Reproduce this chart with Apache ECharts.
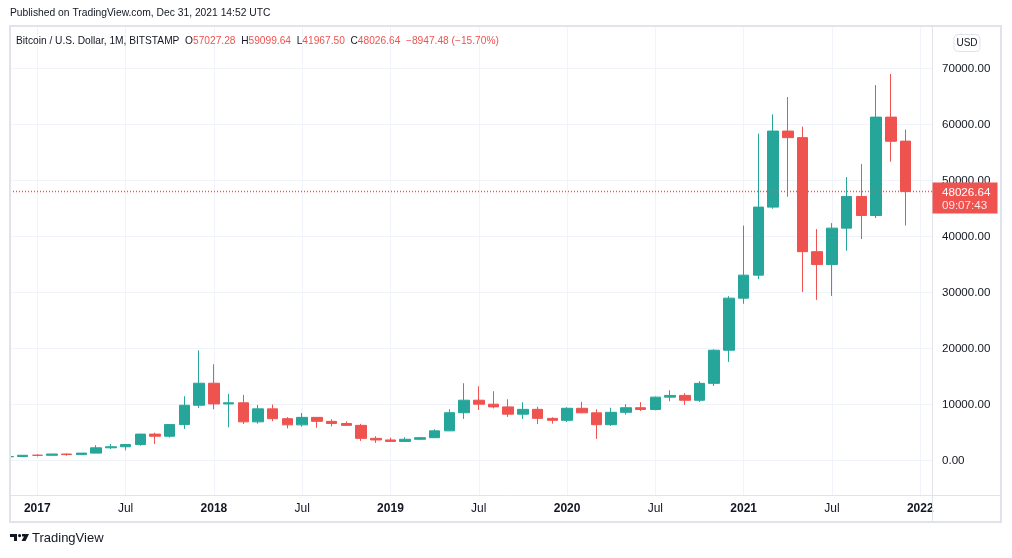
<!DOCTYPE html>
<html>
<head>
<meta charset="utf-8">
<script src="https://cdn.jsdelivr.net/npm/echarts@6/dist/echarts.min.js"></script>
<style>
  html, body { margin: 0; padding: 0; background: #fff; }
  #chart { width: 1012px; height: 558px; }
</style>
</head>
<body>
<div id="chart"></div>
<script>
// monthly BTC/USD, Bitstamp
const months = [
  '2016-11', '2016-12',
  '2017-01', '2017-02', '2017-03', '2017-04', '2017-05', '2017-06', '2017-07', '2017-08', '2017-09', '2017-10', '2017-11', '2017-12',
  '2018-01', '2018-02', '2018-03', '2018-04', '2018-05', '2018-06', '2018-07', '2018-08', '2018-09', '2018-10', '2018-11', '2018-12',
  '2019-01', '2019-02', '2019-03', '2019-04', '2019-05', '2019-06', '2019-07', '2019-08', '2019-09', '2019-10', '2019-11', '2019-12',
  '2020-01', '2020-02', '2020-03', '2020-04', '2020-05', '2020-06', '2020-07', '2020-08', '2020-09', '2020-10', '2020-11', '2020-12',
  '2021-01', '2021-02', '2021-03', '2021-04', '2021-05', '2021-06', '2021-07', '2021-08', '2021-09', '2021-10', '2021-11', '2021-12'
];
const opens = [
  698, 742,
  967, 962, 1190, 1080, 1348, 2300, 2480, 2875, 4740, 4360, 6440, 9890,
  13820, 10130, 10330, 6925, 9245, 7495, 6390, 7730, 7020, 6630, 6300, 3980,
  3700, 3440, 3820, 4100, 5320, 8560, 10790, 10080, 9600, 8300, 9160, 7550,
  7200, 9350, 8540, 6420, 8630, 9450, 9140, 11340, 11650, 10780, 13800, 19710,
  29000, 33110, 45250, 58820, 57650, 37300, 35000, 41500, 47150, 43750, 61310, 57027.28
];
const highs = [
  753, 979,
  1153, 1200, 1300, 1350, 2770, 2980, 2920, 4800, 4980, 6470, 11500, 19700,
  17200, 11920, 11740, 9950, 10020, 7780, 8500, 7750, 7400, 7000, 6570, 4360,
  4100, 4180, 4140, 5600, 9180, 13820, 13290, 12390, 10960, 10430, 9600, 7750,
  9540, 10500, 9180, 9450, 10080, 10430, 11450, 12570, 12040, 14180, 19880, 29360,
  41950, 58350, 61800, 64900, 59600, 41330, 42400, 50600, 52930, 67030, 69000, 59099.64
];
const lows = [
  677, 742,
  752, 914, 890, 1060, 1340, 2080, 1840, 2670, 2975, 4110, 5660, 9410,
  9180, 5960, 6560, 6620, 7050, 5760, 6070, 5880, 6120, 6200, 3520, 3170,
  3360, 3380, 3700, 4060, 5300, 7450, 9060, 9320, 7800, 7450, 6550, 6600,
  6900, 8460, 3880, 6200, 8230, 8880, 8990, 10600, 9950, 10480, 13340, 17630,
  28000, 32400, 44950, 47090, 30100, 28700, 29400, 37450, 39550, 43300, 53340, 41967.50
];
const closes = [
  742, 964,
  960, 1190, 1080, 1348, 2300, 2480, 2875, 4740, 4360, 6440, 9890, 13820,
  10130, 10330, 6925, 9245, 7495, 6390, 7730, 7020, 6630, 6300, 3980, 3700,
  3440, 3820, 4100, 5320, 8560, 10790, 10080, 9600, 8300, 9160, 7550, 7200,
  9350, 8540, 6420, 8630, 9450, 9140, 11340, 11650, 10780, 13800, 19710, 29000,
  33110, 45250, 58820, 57650, 37300, 35000, 41500, 47150, 43750, 61310, 57000, 48026.64
];

// x ticks: months counted from Jan 2017
const xTickValues = [0, 6, 12, 18, 24, 30, 36, 42, 48, 54, 60];
const xTickLabels = ['2017', 'Jul', '2018', 'Jul', '2019', 'Jul', '2020', 'Jul', '2021', 'Jul', '2022'];
const yTickValues = [0, 10000, 20000, 30000, 40000, 50000, 60000, 70000];

const lastPrice = 48026.64;
const countdown = '09:07:43';
const legendParts = [
  ['t', 'Bitcoin / U.S. Dollar, 1M, BITSTAMP  '],
  ['t', 'O'], ['v', '57027.28  '],
  ['t', 'H'], ['v', '59099.64  '],
  ['t', 'L'], ['v', '41967.50  '],
  ['t', 'C'], ['v', '48026.64  '],
  ['v', '\u22128947.48 (\u221215.70%)']
];

const UP = '#26a69a';
const DOWN = '#ef5350';
const TXT = '#131722';
const GRID = '#f0f3fa';
const FRAME = '#e0e3eb';
const FONT = 'Liberation Sans';

function monthIndex(m) {
  const p = m.split('-');
  return (+p[0] - 2017) * 12 + (+p[1] - 1);
}

const candles = months.map((m, i) => [monthIndex(m), opens[i], closes[i], lows[i], highs[i]]);

const chart = echarts.init(document.getElementById('chart'));

const staticGraphics = [
  // hide anything that leaks left of the pane
  { type: 'rect', z: 9, shape: { x: 0, y: 20, width: 10, height: 510 }, style: { fill: '#fff' } },
  // chart frame and pane separators
  { type: 'rect', z: 10, shape: { x: 10, y: 26, width: 991, height: 496 },
    style: { fill: 'none', stroke: FRAME, lineWidth: 2 } },
  { type: 'line', z: 10, shape: { x1: 932.5, y1: 26, x2: 932.5, y2: 522 },
    style: { stroke: FRAME, lineWidth: 1 } },
  { type: 'line', z: 10, shape: { x1: 10, y1: 495.5, x2: 1001, y2: 495.5 },
    style: { stroke: FRAME, lineWidth: 1 } },
  // header
  { type: 'text', left: 10, top: 8.5,
    style: { text: 'Published on TradingView.com, Dec 31, 2021 14:52 UTC', fill: TXT,
      font: '10.3px "Liberation Sans"' } },
  { type: 'text', left: 16, top: 36,
    style: {
      text: legendParts.map(p => '{' + p[0] + '|' + p[1] + '}').join(''),
      rich: {
        t: { fill: TXT, fontSize: 10.2, fontFamily: FONT },
        v: { fill: DOWN, fontSize: 10.2, fontFamily: FONT }
      }
    } },
  // USD badge
  { type: 'rect', shape: { x: 954, y: 34.5, width: 26, height: 17, r: 4 },
    style: { fill: '#fff', stroke: FRAME, lineWidth: 1 } },
  { type: 'text', x: 967, y: 43,
    style: { text: 'USD', fill: TXT, font: '10px "Liberation Sans"', align: 'center', verticalAlign: 'middle' } },
  // footer logo
  { type: 'group', left: 10, top: 534, children: [
    { type: 'polygon', shape: { points: [[0, 0], [7, 0], [7, 7], [4, 7], [4, 3], [0, 3]] },
      style: { fill: TXT } },
    { type: 'circle', shape: { cx: 9.6, cy: 1.6, r: 1.6 }, style: { fill: TXT } },
    { type: 'polygon', shape: { points: [[12, 0], [19, 0], [15.5, 7], [11.5, 7], [14, 2.5], [12, 2.5]] },
      style: { fill: TXT } }
  ] },
  { type: 'text', left: 32, top: 532,
    style: { text: 'TradingView', fill: TXT, font: '13px "Liberation Sans"' } }
];

const option = {
  animation: false,
  backgroundColor: '#fff',
  textStyle: { fontFamily: FONT },
  grid: { left: 10, right: 80, top: 26, bottom: 62 },
  xAxis: {
    type: 'value',
    min: -1.855,
    max: 60.8,
    axisLine: { show: false },
    axisTick: { show: false, customValues: xTickValues },
    splitLine: { show: true, lineStyle: { color: GRID, width: 1 } },
    axisLabel: {
      customValues: xTickValues,
      margin: 7,
      color: TXT,
      fontSize: 12,
      fontFamily: FONT,
      formatter: function (v) {
        const lab = xTickLabels[xTickValues.indexOf(v)];
        return lab === 'Jul' ? lab : '{y|' + lab + '}';
      },
      rich: { y: { fontWeight: 'bold', fontSize: 12, color: TXT, fontFamily: FONT } }
    }
  },
  yAxis: {
    type: 'value',
    position: 'right',
    min: -6304,
    max: 77571,
    axisLine: { show: false },
    axisTick: { show: false, customValues: yTickValues },
    splitLine: { show: true, lineStyle: { color: GRID, width: 1 } },
    axisLabel: {
      customValues: yTickValues,
      margin: 10,
      color: TXT,
      fontSize: 11.6,
      fontFamily: FONT,
      formatter: v => v.toFixed(2)
    }
  },
  series: [{
    type: 'candlestick',
    data: candles,
    encode: { x: 0, y: [1, 2, 3, 4] },
    clip: true,
    barWidth: 11,
    itemStyle: {
      color: UP,
      color0: DOWN,
      borderColor: UP,
      borderColor0: DOWN,
      borderWidth: 1
    },
    markLine: {
      silent: true,
      symbol: ['none', 'none'],
      itemStyle: { color: DOWN },
      lineStyle: { color: DOWN, type: [1, 2], width: 1.3, opacity: 1 },
      label: { show: false },
      data: [{ yAxis: lastPrice, lineStyle: { color: DOWN } }]
    }
  }],
  graphic: staticGraphics
};

chart.setOption(option);

// last-price badge on the price scale, placed from the axis itself
const py = chart.convertToPixel({ yAxisIndex: 0 }, lastPrice);
chart.setOption({
  graphic: staticGraphics.concat([
    { type: 'rect', z: 11, shape: { x: 932.5, y: py - 9, width: 65, height: 31 },
      style: { fill: DOWN } },
    { type: 'text', z: 12, x: 942, y: py + 1,
      style: { text: lastPrice.toFixed(2), fill: '#fff', font: '11.6px "Liberation Sans"', verticalAlign: 'middle' } },
    { type: 'text', z: 12, x: 942, y: py + 14.5,
      style: { text: countdown, fill: 'rgba(255,255,255,0.85)', font: '11.6px "Liberation Sans"', verticalAlign: 'middle' } }
  ])
}, { replaceMerge: ['graphic'] });
</script>
</body>
</html>
